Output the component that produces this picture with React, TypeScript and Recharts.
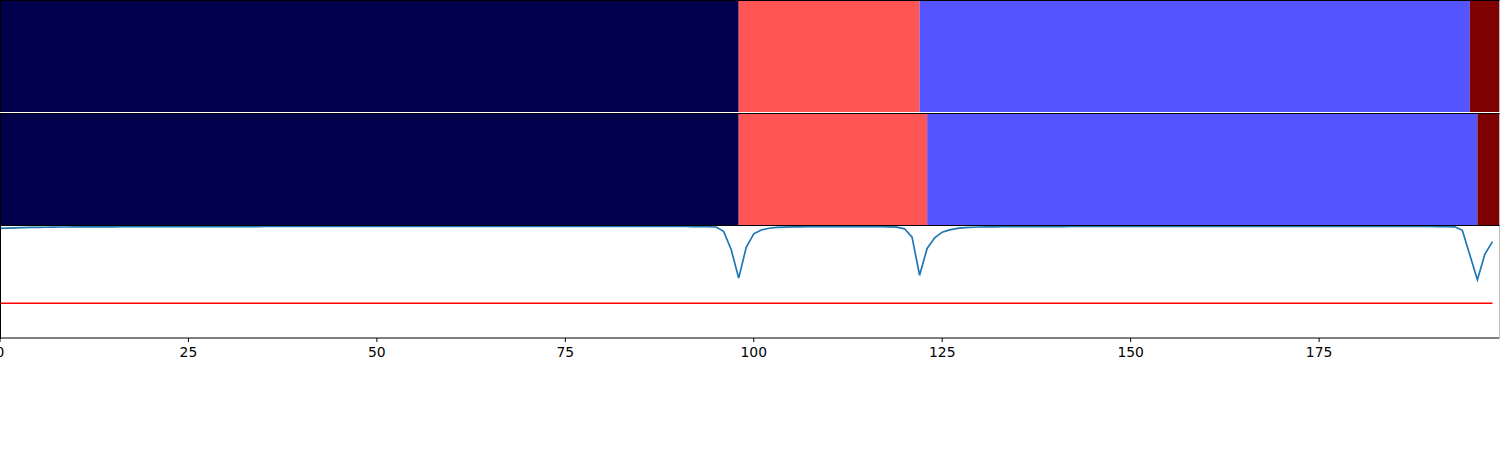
import { ComposedChart, LineChart, Line, XAxis, YAxis, ReferenceArea, ReferenceLine } from 'recharts';

// segment boundaries (x positions) and the label of each segment
const topBounds = [0, 98, 122, 195, 199];
const topLabels = [0, 2, 1, 3];
const midBounds = [0, 98, 123, 196, 199];
const midLabels = [0, 2, 1, 3];

const xTicks = [0, 25, 50, 75, 100, 125, 150, 175];

const threshold = 0.31;

const score = [
  0.978, 0.981, 0.983, 0.985, 0.987, 0.988, 0.989, 0.99, 0.991, 0.991,
  0.992, 0.992, 0.992, 0.993, 0.993, 0.993, 0.994, 0.994, 0.994, 0.994,
  0.994, 0.994, 0.995, 0.995, 0.995, 0.995, 0.995, 0.995, 0.995, 0.995,
  0.995, 0.995, 0.995, 0.995, 0.995, 0.996, 0.996, 0.996, 0.996, 0.996,
  0.996, 0.996, 0.996, 0.996, 0.996, 0.996, 0.996, 0.996, 0.996, 0.996,
  0.996, 0.996, 0.996, 0.996, 0.996, 0.996, 0.996, 0.996, 0.996, 0.996,
  0.996, 0.996, 0.996, 0.996, 0.996, 0.996, 0.996, 0.996, 0.996, 0.996,
  0.996, 0.996, 0.996, 0.996, 0.996, 0.996, 0.996, 0.996, 0.996, 0.996,
  0.996, 0.996, 0.996, 0.996, 0.996, 0.996, 0.996, 0.996, 0.996, 0.996,
  0.996, 0.996, 0.995, 0.995, 0.994, 0.991, 0.952, 0.79, 0.535, 0.81,
  0.93, 0.964, 0.98, 0.987, 0.99, 0.992, 0.993, 0.994, 0.994, 0.995,
  0.995, 0.995, 0.995, 0.995, 0.995, 0.995, 0.995, 0.994, 0.993, 0.99,
  0.975, 0.9, 0.56, 0.8, 0.895, 0.945, 0.965, 0.978, 0.985, 0.989,
  0.991, 0.992, 0.993, 0.994, 0.994, 0.995, 0.995, 0.995, 0.995, 0.995,
  0.995, 0.995, 0.996, 0.996, 0.996, 0.996, 0.996, 0.996, 0.996, 0.996,
  0.996, 0.996, 0.996, 0.996, 0.996, 0.996, 0.996, 0.996, 0.996, 0.996,
  0.996, 0.996, 0.996, 0.996, 0.996, 0.996, 0.996, 0.996, 0.996, 0.996,
  0.996, 0.996, 0.996, 0.996, 0.996, 0.996, 0.996, 0.996, 0.996, 0.996,
  0.996, 0.996, 0.996, 0.996, 0.996, 0.996, 0.996, 0.996, 0.996, 0.996,
  0.996, 0.995, 0.994, 0.993, 0.962, 0.74, 0.52, 0.75, 0.86,
];

// seismic colormap sampled at 4 labels
const PALETTE = ['#00004c', '#5555ff', '#ff5555', '#7f0000'];

const W = 1500;
const PANEL_H = 112;
const X_MAX = 199;

const lineData = score.map((v, i) => ({ x: i, score: v }));

const spine = {
  position: 'absolute' as const,
  left: 0,
  width: W,
  border: '1px solid #000',
  borderRightColor: '#bbb',
  boxSizing: 'border-box' as const,
  pointerEvents: 'none' as const,
};

function SegmentPanel({ bounds, labels, top }: { bounds: number[]; labels: number[]; top: number }) {
  const segs = labels.map((l, i) => ({ x1: bounds[i], x2: bounds[i + 1], label: l }));
  return (
    <div style={{ position: 'absolute', left: 0, top, width: W, height: PANEL_H }}>
      <ComposedChart width={W} height={PANEL_H} data={lineData} margin={{ top: 0, right: 0, bottom: 0, left: 0 }}>
        <XAxis dataKey="x" type="number" domain={[0, X_MAX]} hide />
        <YAxis type="number" domain={[0, 1]} hide />
        {segs.map((s, i) => (
          <ReferenceArea
            key={i}
            x1={s.x1}
            x2={s.x2}
            y1={0}
            y2={1}
            fill={PALETTE[s.label]}
            fillOpacity={1}
            stroke="none"
            ifOverflow="extendDomain"
          />
        ))}
      </ComposedChart>
    </div>
  );
}

export default function App() {
  return (
    <div style={{ position: 'absolute', left: 0, top: 0, width: W, height: 450, background: '#fff', overflow: 'hidden' }}>
      <SegmentPanel bounds={topBounds} labels={topLabels} top={0} />
      <div style={{ ...spine, top: 0, height: PANEL_H, borderBottom: 'none' }} />
      <div style={{ position: 'absolute', left: 0, top: 112, width: W, height: 1, background: '#fff' }} />
      <SegmentPanel bounds={midBounds} labels={midLabels} top={113} />
      <div style={{ ...spine, top: 113, height: PANEL_H + 1 }} />

      <div style={{ position: 'absolute', left: 0, top: 226, width: W, height: 150 }}>
        <LineChart width={W} height={150} data={lineData} margin={{ top: 0, right: 0, bottom: 0, left: 0 }}>
          <XAxis
            dataKey="x"
            type="number"
            domain={[0, X_MAX]}
            ticks={xTicks}
            interval={0}
            height={38}
            tickSize={4}
            tickMargin={5}
            axisLine={{ stroke: '#000', strokeWidth: 1.2 }}
            tickLine={{ stroke: '#000' }}
            tick={{ fill: '#000', fontSize: 13.9, fontFamily: 'DejaVu Sans' }}
          />
          <YAxis type="number" domain={[0, 1]} hide />
          <ReferenceLine
            segment={[{ x: 0, y: threshold }, { x: score.length - 1, y: threshold }]}
            stroke="#ff0000"
            strokeWidth={1.6}
          />
          <Line
            type="linear"
            dataKey="score"
            stroke="#1f77b4"
            strokeWidth={1.7}
            dot={false}
            isAnimationActive={false}
          />
        </LineChart>
      </div>
      <div style={{ ...spine, top: 225, height: PANEL_H + 2, borderBottom: 'none' }} />
    </div>
  );
}
